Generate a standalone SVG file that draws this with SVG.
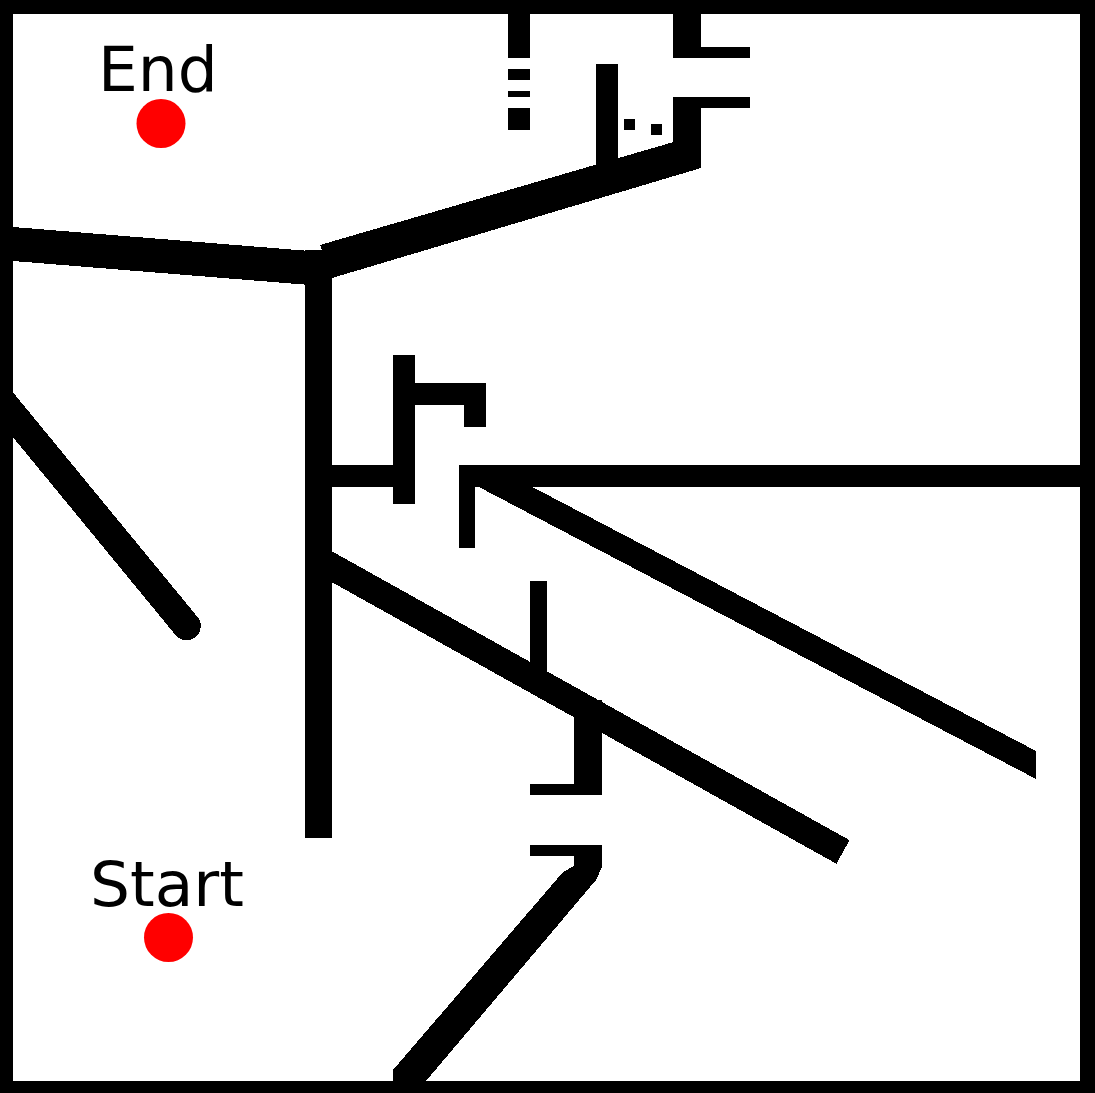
<svg xmlns="http://www.w3.org/2000/svg" width="1095" height="1093" viewBox="0 0 1095 1093">
<style>
.w{fill:#000;stroke:none}
.d{fill:none;stroke:#000}
.lbl{font-family:"DejaVu Sans","Liberation Sans",sans-serif;font-size:63px;fill:#000}
.pt{fill:#ff0000}
</style>
<rect x="0" y="0" width="1095" height="1093" fill="#fff"/>
<g id="walls" shape-rendering="crispEdges">
<rect class="w" x="0" y="0" width="1095" height="14"/>
<rect class="w" x="0" y="0" width="13" height="1093"/>
<rect class="w" x="1080" y="0" width="15" height="1093"/>
<rect class="w" x="0" y="1081" width="1095" height="12"/>
<rect class="w" x="508" y="14" width="22" height="44"/>
<rect class="w" x="508" y="69" width="22" height="11"/>
<rect class="w" x="508" y="91" width="22" height="6"/>
<rect class="w" x="508" y="108" width="22" height="22"/>
<rect class="w" x="596" y="64" width="22" height="110"/>
<rect class="w" x="624" y="119" width="11" height="11"/>
<rect class="w" x="651" y="124" width="11" height="11"/>
<rect class="w" x="673" y="14" width="28" height="44"/>
<rect class="w" x="701" y="47" width="49" height="11"/>
<rect class="w" x="673" y="97" width="28" height="71"/>
<rect class="w" x="701" y="97" width="49" height="11"/>
<polygon class="w" points="320,245 701,134 701,168 332,278"/>
<polygon class="w" points="13,227 322,252 322,286 13,261"/>
<rect class="w" x="305" y="250" width="27" height="588"/>
<rect class="w" x="332" y="465" width="61" height="22"/>
<rect class="w" x="393" y="355" width="22" height="149"/>
<rect class="w" x="415" y="383" width="71" height="22"/>
<rect class="w" x="464" y="405" width="22" height="22"/>
<rect class="w" x="459" y="465" width="621" height="22"/>
<rect class="w" x="459" y="487" width="16" height="61"/>
<polygon class="w" points="475,470 500,470 1036,751 1036,779 475,485"/>
<line class="d" x1="0" y1="399" x2="186.5" y2="626" stroke-width="28.5"/>
<circle class="w" cx="186.5" cy="626" r="14.25"/>
<line class="d" x1="318" y1="559" x2="843" y2="852" stroke-width="27"/>
<rect class="w" x="530" y="581" width="17" height="95"/>
<rect class="w" x="574" y="700" width="28" height="95"/>
<rect class="w" x="530" y="784" width="72" height="11"/>
<polygon class="w" points="530,845 602,845 602,867 596,880 426,1081 393,1081 393,1070 563,872 574,866 574,856 530,856"/>
</g>
<g id="end">
<text class="lbl" x="98" y="91">End</text>
<circle class="pt" cx="161" cy="123.5" r="24.5"/>
</g>
<g id="start">
<text class="lbl" x="90" y="906">Start</text>
<circle class="pt" cx="168.5" cy="937.5" r="24.5"/>
</g>
</svg>
